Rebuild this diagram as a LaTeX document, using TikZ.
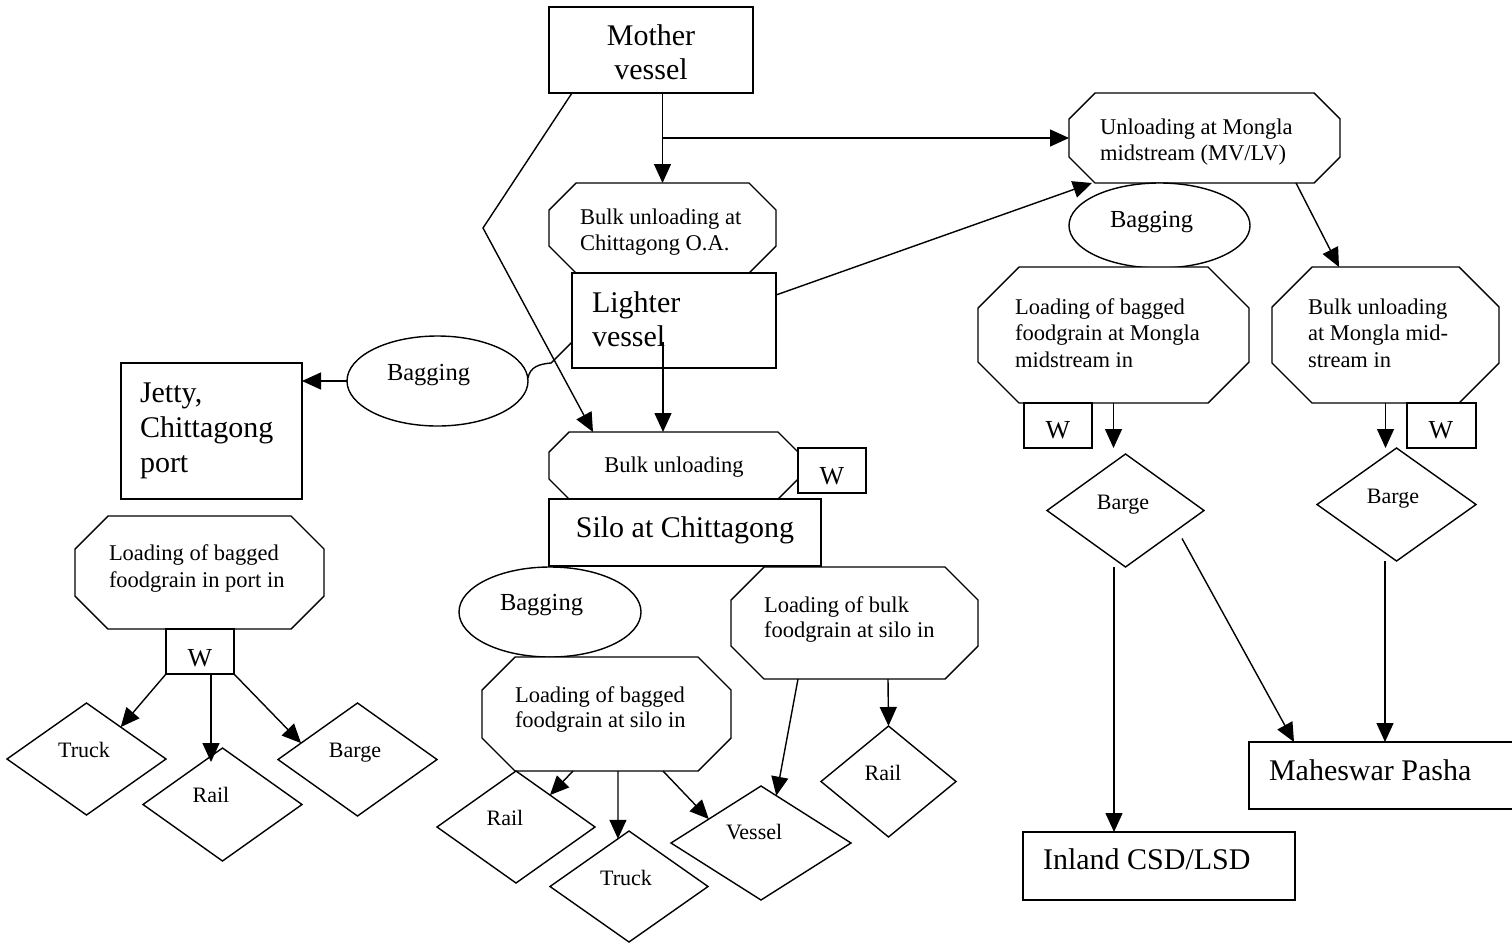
\documentclass[tikz,border=0pt]{standalone}
\usepackage{fontspec}
\setmainfont{Liberation Serif}
\usetikzlibrary{arrows.meta,shapes.geometric,calc}
\newcommand\bigF{\fontsize{30}{34}\selectfont}
\newcommand\midF{\fontsize{22.5}{26}\selectfont}
\newcommand\bagF{\fontsize{24.5}{28}\selectfont}
\newcommand\wF{\fontsize{26}{28}\selectfont}
\newcommand\smF{\fontsize{22}{26}\selectfont}
\tikzset{
  shp/.style={draw=black, fill=white, line width=1.4pt},
  ghost/.style={rectangle, inner sep=0pt, outer sep=0pt, draw=none},
  rectbox/.style={rectangle, shp, inner sep=0pt, outer sep=0pt},
  ell/.style={ellipse, shp, inner sep=0pt, outer sep=0pt},
  arr/.style={line width=1.4pt, -{Triangle[length=19pt,width=17pt]}},
  ln/.style={line width=1.4pt},
  txt/.style={inner sep=0pt, outer sep=0pt},
}
% octagon: name, cx, cy, width, height, cut
\newcommand\myoct[6]{%
  \node[ghost, minimum width=#4pt, minimum height=#5pt] (#1) at (#2,#3) {};
  \draw[shp] ([xshift=#6pt]#1.north west) -- ([xshift=-#6pt]#1.north east)
    -- ([yshift=-#6pt]#1.north east) -- ([yshift=#6pt]#1.south east)
    -- ([xshift=-#6pt]#1.south east) -- ([xshift=#6pt]#1.south west)
    -- ([yshift=#6pt]#1.south west) -- ([yshift=-#6pt]#1.north west) -- cycle;
}
% diamond: name, cx, cy, width, height
\newcommand\mydiam[5]{%
  \node[ghost, minimum width=#4pt, minimum height=#5pt] (#1) at (#2,#3) {};
  \draw[shp] (#1.north) -- (#1.east) -- (#1.south) -- (#1.west) -- cycle;
}
\begin{document}
\begin{tikzpicture}[x=1pt,y=-1pt]
\useasboundingbox (0,0) rectangle (1512,943);
\clip (0,0) rectangle (1512,943);

% ---------- shapes, centre column ----------
\node[rectbox, minimum width=204pt, minimum height=86pt] (mv) at (651,50) {};
\myoct{oa}{662.5}{228}{227}{90}{27}
\node[rectbox, minimum width=204pt, minimum height=95pt] (lv) at (674,320.5) {};
\node[ell, minimum width=181pt, minimum height=90pt] (bagL) at (437.5,381) {};
\node[rectbox, minimum width=181pt, minimum height=136pt] (jetty) at (211.5,431) {};
\myoct{bu}{673.5}{465.5}{249}{67}{20}
\node[rectbox, minimum width=68pt, minimum height=45pt] (wsilo) at (832,470.5) {};
\node[rectbox, minimum width=272pt, minimum height=67pt] (silo) at (685,532.5) {};
\node[ell, minimum width=182pt, minimum height=90pt] (bagS) at (550,612) {};
\myoct{ls}{606.5}{714}{249}{114}{33}
\myoct{lb}{854.5}{623}{247}{112}{33}
\mydiam{railS}{516}{827}{158}{112}
\mydiam{truckS}{629}{886.5}{158}{111}
\mydiam{vessel}{761}{843}{180}{114}
\mydiam{railR}{888.5}{781.5}{135}{111}

% ---------- left column ----------
\myoct{lp}{199.5}{572.5}{249}{113}{33}
\node[rectbox, minimum width=68pt, minimum height=45pt] (wport) at (200,651.5) {};
\mydiam{truckP}{86.5}{759}{159}{112}
\mydiam{railP}{222.5}{804.5}{159}{113}
\mydiam{bargeP}{357.5}{759.5}{159}{113}

% ---------- right side ----------
\myoct{um}{1204.5}{138}{271}{90}{26}
\node[ell, minimum width=181pt, minimum height=85pt] (bagR) at (1159.5,225.5) {};
\myoct{lm}{1113.5}{335}{271}{136}{41}
\myoct{bm}{1385.5}{335}{227}{136}{40}
\node[rectbox, minimum width=68pt, minimum height=45pt] (wml) at (1058,425.5) {};
\node[rectbox, minimum width=69pt, minimum height=45pt] (wmr) at (1441.5,425.5) {};
\mydiam{bargeML}{1125.5}{510.5}{157}{113}
\mydiam{bargeMR}{1396.5}{504.5}{159}{113}
\node[rectbox, minimum width=272pt, minimum height=68pt] (inland) at (1159,866) {};
\node[rectbox, minimum width=272pt, minimum height=67pt] (mahes) at (1385,775.5) {};

% ---------- texts ----------
\node[txt, anchor=base] (tmv1) at (651,45) {\bigF Mother};
\node[txt, anchor=base] (tmv2) at (651,79) {\bigF vessel};
\node[txt, anchor=base west] (toa1) at (580,224) {\midF Bulk unloading at};
\node[txt, anchor=base west] (toa2) at (580,250) {\midF Chittagong O.A.};
\node[txt, anchor=base west] (tlv1) at (592,312) {\bigF Lighter};
\node[txt, anchor=base west] (tlv2) at (592,346) {\bigF vessel};
\node[txt, anchor=base west] (tbagL) at (387,380) {\bagF Bagging};
\node[txt, anchor=base west] (tj1) at (140,402) {\bigF Jetty,};
\node[txt, anchor=base west] (tj2) at (140,437) {\bigF Chittagong};
\node[txt, anchor=base west] (tj3) at (140,472) {\bigF port};
\node[txt, anchor=base] (tbu) at (674,472) {\midF Bulk unloading};
\node[txt, anchor=base] (twsilo) at (832,484) {\wF W};
\node[txt, anchor=base] (tsilo) at (685,537) {\bigF Silo at Chittagong};
\node[txt, anchor=base west] (tbagS) at (500,610) {\bagF Bagging};
\node[txt, anchor=base west] (tls1) at (515,702) {\midF Loading of bagged};
\node[txt, anchor=base west] (tls2) at (515,727) {\midF foodgrain at silo in};
\node[txt, anchor=base west] (tlb1) at (764,612) {\midF Loading of bulk};
\node[txt, anchor=base west] (tlb2) at (764,637) {\midF foodgrain at silo in};
\node[txt, anchor=base] (trailS) at (505,825) {\smF Rail};
\node[txt, anchor=base] (ttruckS) at (626,885) {\smF Truck};
\node[txt, anchor=base west] (tvessel) at (726,839) {\smF Vessel};
\node[txt, anchor=base] (trailR) at (883,780) {\smF Rail};
\node[txt, anchor=base west] (tlp1) at (109,560) {\midF Loading of bagged};
\node[txt, anchor=base west] (tlp2) at (109,587) {\midF foodgrain in port in};
\node[txt, anchor=base] (twport) at (200,666) {\wF W};
\node[txt, anchor=base] (ttruckP) at (84,757) {\smF Truck};
\node[txt, anchor=base] (trailP) at (211,802) {\smF Rail};
\node[txt, anchor=base] (tbargeP) at (355,757) {\smF Barge};
\node[txt, anchor=base west] (tum1) at (1100,134) {\midF Unloading at Mongla};
\node[txt, anchor=base west] (tum2) at (1100,160) {\midF midstream (MV/LV)};
\node[txt, anchor=base west] (tbagR) at (1110,227) {\bagF Bagging};
\node[txt, anchor=base west] (tlm1) at (1015,314) {\midF Loading of bagged};
\node[txt, anchor=base west] (tlm2) at (1015,340) {\midF foodgrain at Mongla};
\node[txt, anchor=base west] (tlm3) at (1015,367) {\midF midstream in};
\node[txt, anchor=base west] (tbm1) at (1308,314) {\midF Bulk unloading};
\node[txt, anchor=base west] (tbm2) at (1308,340) {\midF at Mongla mid-};
\node[txt, anchor=base west] (tbm3) at (1308,367) {\midF stream in};
\node[txt, anchor=base] (twml) at (1058,438) {\wF W};
\node[txt, anchor=base] (twmr) at (1441,438) {\wF W};
\node[txt, anchor=base] (tbargeML) at (1123,509) {\smF Barge};
\node[txt, anchor=base] (tbargeMR) at (1393,503) {\smF Barge};
\node[txt, anchor=base west] (tinland) at (1043,869) {\bigF Inland CSD/LSD};
\node[txt, anchor=base west] (tmahes) at (1269,780) {\bigF Maheswar Pasha};

% ---------- connectors ----------
\coordinate (bend1) at (483,228);
\coordinate (hook) at (551,363);
\draw[arr] ([xshift=11.5pt]mv.south) -- (oa.north);
\draw[arr] (oa.north |- um.west) -- (um.west);
\draw[arr] ([xshift=-79pt]mv.south) -- (bend1) -- ([xshift=-80.5pt]bu.north);
\draw[arr] ([yshift=25.5pt]lv.east) -- ([xshift=23pt]um.south west);
\draw[arr] ([xshift=-11pt,yshift=-21.5pt]lv.center) -- ([xshift=-10.5pt]bu.north);
\draw[ln] ([yshift=-21.5pt]lv.west) -- (hook) .. controls (539,364) and (530,367) .. ([yshift=3pt]bagL.east);
\draw[arr] (bagL.west) -- (bagL.west -| jetty.east);

\draw[arr] (wport.south west) -- ($(truckP.north)!0.43!(truckP.east)$);
\draw[arr] ([xshift=11pt]wport.south) -- ([xshift=-11.5pt,yshift=-14pt]railP.north);
\draw[arr] (wport.south east) -- ($(bargeP.north)!0.71!(bargeP.west)$);

\draw[arr] ([xshift=-33.5pt]ls.south) -- ($(railS.north)!0.43!(railS.east)$);
\draw[arr] ([xshift=11.5pt]ls.south) -- ($(truckS.north)!0.14!(truckS.west)$);
\draw[arr] ([xshift=56.5pt]ls.south) -- ($(vessel.north)!0.58!(vessel.west)$);
\draw[arr] ([xshift=-56.5pt]lb.south) -- ($(vessel.north)!0.17!(vessel.east)$);
\draw[arr] ([xshift=33.5pt]lb.south) -- (railR.north);

\draw[arr] ([xshift=91.5pt]um.south) -- ([xshift=-46.5pt]bm.north);
\draw[arr] (lm.south) -- (lm.south |- wml.south);
\draw[arr] (bm.south) -- (bm.south |- wmr.south);
\draw[arr] ([xshift=-11.5pt]bargeML.south) -- ([xshift=-45pt]inland.north);
\draw[arr] ([xshift=56.5pt,yshift=-28pt]bargeML.center) -- ([xshift=-91pt]mahes.north);
\draw[arr] ([xshift=-11.5pt]bargeMR.south) -- (mahes.north);
\end{tikzpicture}
\end{document}
